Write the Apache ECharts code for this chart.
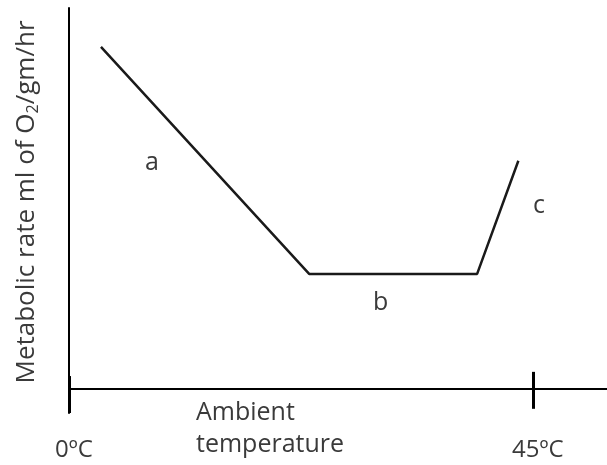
<!DOCTYPE html>
<html>
<head>
<meta charset="utf-8">
<script src="https://cdn.jsdelivr.net/npm/echarts@6/dist/echarts.min.js"></script>
<style>
html,body{margin:0;padding:0;background:#fff;}
#chart{width:607px;height:465px;}
</style>
</head>
<body>
<div id="chart"></div>
<script>
// Ambient temperature (ºC) of the curve's vertices
const temperatureC = [3.1, 23.3, 39.6, 43.6];
// Metabolic rate (arbitrary units, axis 0..100)
const metabolicRate = [89.8, 30.2, 30.2, 59.9];
// Labelled ticks on the temperature axis
const tickValues = [0, 45];
const tickLabels = ['0ºC', '45ºC'];
// Region labels
const regionLabels = ['a', 'b', 'c'];

const FONT = '"Open Sans", sans-serif';
const TXT = '#3a3a3a';

const chart = echarts.init(document.getElementById('chart'), null, {renderer: 'canvas'});
const lineData = temperatureC.map((t, i) => [t, metabolicRate[i]]);

const option = {
  animation: false,
  backgroundColor: '#fff',
  grid: {left: 69, right: 0, top: 8, bottom: 52, containLabel: false, outerBoundsMode: 'none'},
  xAxis: {
    type: 'value', min: 0, max: 52.2, interval: 45,
    axisLine: {show: true, onZero: true, lineStyle: {color: '#000', width: 2}},
    axisTick: {show: false},
    splitLine: {show: false},
    axisLabel: {
      fontFamily: FONT, fontSize: 24, color: TXT, margin: 25, padding: [0, 0, 0, 10],
      showMaxLabel: false,
      formatter: v => { const i = tickValues.indexOf(v); return i >= 0 ? tickLabels[i] : ''; }
    }
  },
  yAxis: {
    type: 'value', min: -6.3, max: 100,
    axisLine: {show: true, lineStyle: {color: '#000', width: 2}},
    axisTick: {show: false},
    axisLabel: {show: false},
    splitLine: {show: false},
    name: 'Metabolic rate ml of O{sub|2}/gm/hr',
    nameLocation: 'middle', nameRotate: 90, nameGap: 28,
    nameTextStyle: {
      fontFamily: FONT, fontSize: 26, color: TXT, padding: [0, 0, 0, 17],
      rich: {sub: {fontFamily: FONT, fontSize: 16, color: TXT, padding: [12, 0, 0, 0]}}
    }
  },
  series: [{
    type: 'line',
    data: lineData,
    symbol: 'none',
    lineStyle: {color: '#1a1a1a', width: 2.5},
    markLine: {
      silent: true, symbol: 'none', label: {show: false},
      lineStyle: {color: '#000', width: 3, type: 'solid'},
      data: [
        [{coord: [tickValues[0], -6.3]}, {coord: [tickValues[0], 3.4]}],
        [{coord: [tickValues[1], -5.2]}, {coord: [tickValues[1], 4.5]}]
      ]
    }
  }],
  graphic: [
    {type: 'text', left: 145, top: 150, style: {text: regionLabels[0], font: '25px ' + FONT, fill: TXT}},
    {type: 'text', left: 373, top: 290, style: {text: regionLabels[1], font: '25px ' + FONT, fill: TXT}},
    {type: 'text', left: 533, top: 193, style: {text: regionLabels[2], font: '25px ' + FONT, fill: TXT}},
    {type: 'text', left: 196, top: 397, style: {text: 'Ambient\ntemperature', font: '25px ' + FONT, fill: TXT, lineHeight: 32}}
  ]
};
chart.setOption(option);
</script>
</body>
</html>
